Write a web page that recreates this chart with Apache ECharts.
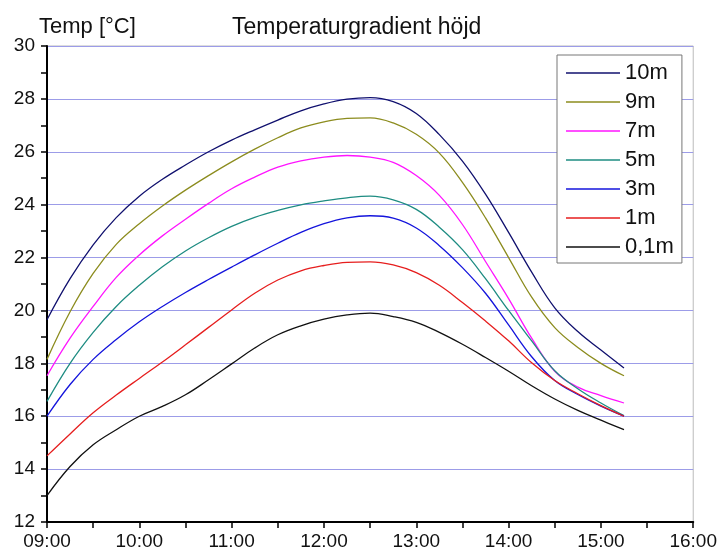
<!DOCTYPE html>
<html>
<head>
<meta charset="utf-8">
<script src="https://cdn.jsdelivr.net/npm/echarts@6/dist/echarts.min.js"></script>
<style>
  html, body { margin: 0; padding: 0; background: #fff; }
  #chart { width: 720px; height: 557px; }
</style>
</head>
<body>
<div id="chart"></div>
<script>
// tider, var 15:e minut
var times = ['09:00', '09:15', '09:30', '09:45', '10:00', '10:15', '10:30', '10:45', '11:00', '11:15', '11:30', '11:45', '12:00',
    '12:15', '12:30', '12:45', '13:00', '13:15', '13:30', '13:45', '14:00', '14:15', '14:30', '14:45', '15:00', '15:15'];

var names = ['10m', '9m', '7m', '5m', '3m', '1m', '0,1m'];
var colors = ['#10106e', '#8c8c1e', '#ff14ff', '#1e8c82', '#1414dc', '#e61e1e', '#111111'];

var t10m = [19.65, 21.2, 22.48, 23.51, 24.32, 24.96, 25.5, 26.0, 26.44, 26.83, 27.2, 27.55, 27.81,
    27.99, 28.05, 27.9, 27.45, 26.65, 25.65, 24.4, 22.95, 21.45, 20.1, 19.2, 18.5, 17.82];
var t9m = [18.15, 19.95, 21.4, 22.5, 23.28, 23.95, 24.55, 25.1, 25.62, 26.1, 26.53, 26.9, 27.13,
    27.26, 27.28, 27.09, 26.66, 25.95, 24.84, 23.5, 22.0, 20.5, 19.35, 18.6, 18.0, 17.53];
var t7m = [17.53, 18.95, 20.15, 21.25, 22.1, 22.82, 23.45, 24.05, 24.6, 25.04, 25.42, 25.66, 25.8,
    25.86, 25.8, 25.6, 25.1, 24.35, 23.25, 21.85, 20.45, 18.95, 17.7, 17.1, 16.78, 16.5];
var t5m = [16.56, 18.0, 19.17, 20.15, 20.95, 21.65, 22.25, 22.75, 23.18, 23.52, 23.78, 23.99, 24.14,
    24.26, 24.32, 24.18, 23.82, 23.15, 22.3, 21.2, 20.0, 18.85, 17.72, 17.04, 16.5, 16.02];
var t3m = [16.0, 17.2, 18.15, 18.9, 19.57, 20.15, 20.68, 21.17, 21.64, 22.1, 22.54, 22.95, 23.28,
    23.5, 23.58, 23.49, 23.12, 22.45, 21.62, 20.65, 19.45, 18.25, 17.35, 16.82, 16.38, 16.0];
var t1m = [14.5, 15.33, 16.13, 16.8, 17.43, 18.05, 18.7, 19.36, 20.02, 20.65, 21.15, 21.5, 21.7,
    21.82, 21.84, 21.72, 21.43, 20.95, 20.3, 19.6, 18.85, 18.02, 17.35, 16.85, 16.4, 16.0];
var t01m = [13.0, 14.1, 14.92, 15.49, 16.0, 16.37, 16.81, 17.38, 17.98, 18.58, 19.08, 19.42, 19.67,
    19.83, 19.9, 19.77, 19.55, 19.17, 18.72, 18.22, 17.7, 17.15, 16.65, 16.22, 15.85, 15.49];

var values = [t10m, t9m, t7m, t5m, t3m, t1m, t01m];

function toHours(s) {
    var p = s.split(':');
    return Number(p[0]) + Number(p[1]) / 60;
}
function fmtHour(v) {
    var h = Math.floor(v);
    var m = Math.round((v - h) * 60);
    return (h < 10 ? '0' : '') + h + ':' + (m < 10 ? '0' : '') + m;
}

var series = names.map(function (name, i) {
    return {
        name: name,
        type: 'line',
        smooth: 0.4,
        symbol: 'none',
        color: colors[i],
        lineStyle: { width: 1.3, color: colors[i] },
        data: times.map(function (t, k) { return [toHours(t), values[i][k]]; })
    };
});

var font = 'Liberation Sans, Arial, sans-serif';
var chart = echarts.init(document.getElementById('chart'));
chart.setOption({
    animation: false,
    textStyle: { fontFamily: font },
    title: [
        { text: 'Temp [°C]', left: 34, top: 11, textStyle: { fontSize: 22, fontWeight: 'normal', color: '#111', fontFamily: font } },
        { text: 'Temperaturgradient höjd', left: 227, top: 11, textStyle: { fontSize: 23, fontWeight: 'normal', color: '#111', fontFamily: font } }
    ],
    legend: {
        orient: 'vertical',
        left: 557,
        top: 55,
        data: names,
        icon: 'rect',
        itemWidth: 54,
        itemHeight: 1.4,
        itemGap: 7,
        padding: [7, 8, 5, 9],
        borderColor: '#777',
        borderWidth: 1,
        backgroundColor: '#fff',
        textStyle: { fontSize: 22, color: '#111', fontFamily: font }
    },
    grid: {
        left: 47, right: 22, top: 46, bottom: 35,
        show: true, borderColor: '#bbb', borderWidth: 1
    },
    xAxis: {
        type: 'value', min: 9, max: 16, interval: 1,
        axisLine: { lineStyle: { color: '#000', width: 2 } },
        axisTick: { length: 6, lineStyle: { color: '#000', width: 1.5 } },
        minorTick: { show: true, splitNumber: 2, length: 6, lineStyle: { color: '#000', width: 1.5 } },
        splitLine: { show: false },
        axisLabel: { fontSize: 19, color: '#111', margin: 10, formatter: fmtHour }
    },
    yAxis: {
        type: 'value', min: 12, max: 30, interval: 2,
        axisLine: { show: true, lineStyle: { color: '#000', width: 2 } },
        axisTick: { show: true, length: 6, lineStyle: { color: '#000', width: 1.5 } },
        minorTick: { show: true, splitNumber: 2, length: 6, lineStyle: { color: '#000', width: 1.5 } },
        splitLine: { show: true, lineStyle: { color: '#9c9ce8', width: 1.2 } },
        axisLabel: { fontSize: 19, color: '#111', margin: 12 }
    },
    series: series
});
</script>
</body>
</html>
